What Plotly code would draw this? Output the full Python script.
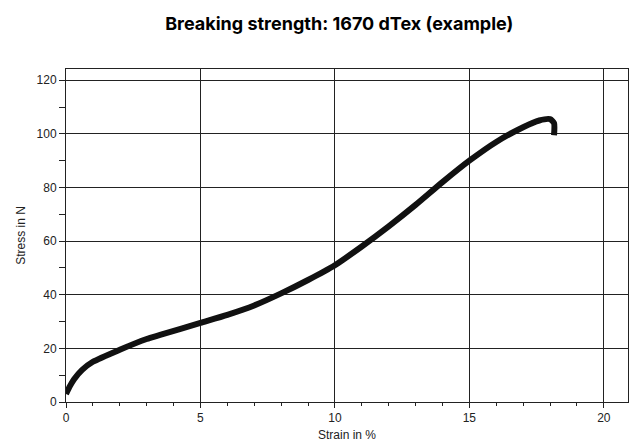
import plotly.graph_objects as go

strain = [0, 0.15, 0.3, 0.6, 1, 2, 3, 3.5, 5, 6, 7, 8, 9, 10, 11, 12, 13, 14, 15, 16, 17, 17.6, 18, 18.15, 18.15]
stress = [3, 6, 8.5, 12, 15, 19.5, 23.5, 25, 29.5, 32.5, 36, 40.5, 45.5, 51, 58, 65.5, 73.5, 82, 90, 97, 102.5, 105, 105.5, 104, 99.5]

fig = go.Figure(go.Scatter(x=strain, y=stress, mode="lines", line_shape="spline",
                           line=dict(color="#111111", width=6, smoothing=0.6), hoverinfo="skip"))
fig.update_layout(
    width=637, height=444, plot_bgcolor="white", paper_bgcolor="white",
    margin=dict(l=58, r=17, t=61, b=47), showlegend=False,
    title=dict(text="<b>Breaking strength: 1670 dTex (example)</b>", x=0.52, xanchor="center",
               y=0.965, yanchor="middle", font=dict(family="Inter", size=18, color="black")),
    font=dict(family="Liberation Sans", size=12, color="#222"),
)
fig.update_xaxes(range=[0, 20.9], tickvals=[0, 5, 10, 15, 20], showgrid=True, gridcolor="#222",
                 gridwidth=1, showline=True, linecolor="#222", mirror=True, ticks="outside",
                 ticklen=5, tickcolor="#222", minor=dict(dtick=1, ticks="outside", ticklen=3, tickcolor="#222"),
                 zeroline=False, title=dict(text="Strain in %", standoff=6, font=dict(size=12)))
fig.update_yaxes(range=[0, 124.2], tickvals=[0, 20, 40, 60, 80, 100, 120], showgrid=True, gridcolor="#222",
                 gridwidth=1, showline=True, linecolor="#222", mirror=True, ticks="outside",
                 ticklen=6, tickcolor="#222", minor=dict(dtick=10, ticks="outside", ticklen=6, tickcolor="#222"),
                 zeroline=False, title=dict(text="Stress in N", standoff=8, font=dict(size=12)))
fig.write_html("out.html")
